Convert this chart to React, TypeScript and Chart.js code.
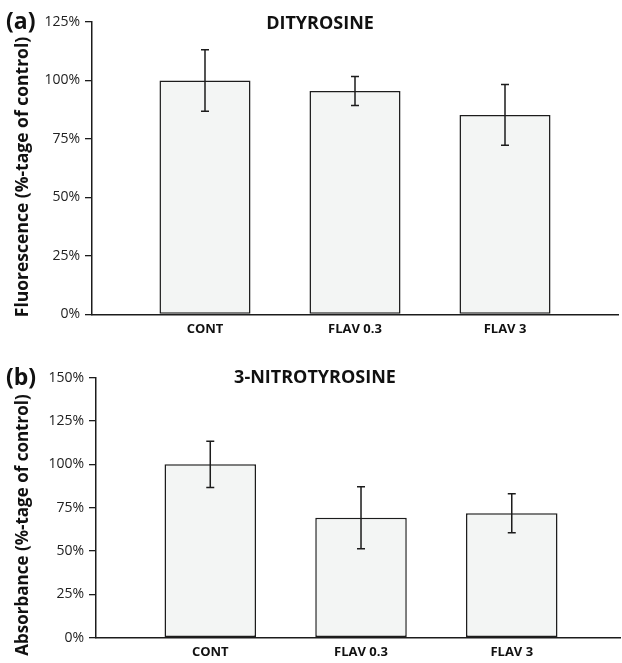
import React, { useEffect, useRef } from 'react';
import { Chart, registerables } from 'chart.js';

Chart.register(...registerables);

const categories = ['CONT', 'FLAV 0.3', 'FLAV 3'];
const dityrosineValues = [100, 95.5, 85.3];
const dityrosineErrors = [13.1, 6.2, 13.0];
const nitrotyrosineValues = [100, 69.2, 71.8];
const nitrotyrosineErrors = [13.4, 17.9, 11.2];
const dityrosineTickMax = 125;
const nitrotyrosineTickMax = 150;
const tickStep = 25;

const FONT = "'Open Sans', 'Noto Sans', sans-serif";
const INK = '#1c1c1c';

type PanelSpec = {
  width: number;
  height: number;
  values: number[];
  errors: number[];
  yMax: number;
  title: string;
  titleX: number;
  titleY: number;
  panel: string;
  panelY: number;
  yTitle: string;
  yTitleX: number;
  yTitleY: number;
  yTitleSize: number;
  axisLeft: number;
  plotTop: number;
  plotBottom: number;
  rightPad: number;
  xMin: number;
  xMax: number;
};

function makeConfig(p: PanelSpec): any {
  const errorBars = {
    id: 'errorBars',
    afterDatasetsDraw(chart: any) {
      const xs = chart.scales.x;
      const ys = chart.scales.y;
      const ctx = chart.ctx;
      ctx.save();
      ctx.strokeStyle = INK;
      ctx.lineWidth = 1.5;
      p.values.forEach((v, i) => {
        const x = xs.getPixelForValue(i);
        const yt = ys.getPixelForValue(v + p.errors[i]);
        const yb = ys.getPixelForValue(v - p.errors[i]);
        ctx.beginPath();
        ctx.moveTo(x, yt);
        ctx.lineTo(x, yb);
        ctx.moveTo(x - 4, yt);
        ctx.lineTo(x + 4, yt);
        ctx.moveTo(x - 4, yb);
        ctx.lineTo(x + 4, yb);
        ctx.stroke();
      });
      ctx.restore();
    },
  };
  const texts = {
    id: 'texts',
    afterDraw(chart: any) {
      const ctx = chart.ctx;
      ctx.save();
      ctx.fillStyle = '#111';
      ctx.textAlign = 'center';
      ctx.textBaseline = 'middle';
      ctx.font = `bold 18px ${FONT}`;
      ctx.fillText(p.title, p.titleX, p.titleY);
      ctx.textAlign = 'left';
      ctx.font = `bold 23px ${FONT}`;
      ctx.fillText(p.panel, 6, p.panelY);
      ctx.translate(p.yTitleX, p.yTitleY);
      ctx.rotate(-Math.PI / 2);
      ctx.textAlign = 'center';
      ctx.font = `bold ${p.yTitleSize}px ${FONT}`;
      ctx.fillText(p.yTitle, 0, 0);
      ctx.restore();
    },
  };
  return {
    type: 'bar',
    data: {
      datasets: [
        {
          data: p.values.map((v, i) => ({ x: i, y: v })),
          backgroundColor: '#f3f5f4',
          borderColor: INK,
          borderWidth: 1.5,
          borderSkipped: false,
          barPercentage: 0.607,
          categoryPercentage: 1,
        },
      ],
    },
    options: {
      animation: false,
      responsive: false,
      devicePixelRatio: 1,
      layout: { padding: { top: p.plotTop, left: 0, right: p.rightPad, bottom: 0 } },
      plugins: { legend: { display: false }, tooltip: { enabled: false }, title: { display: false } },
      scales: {
        x: {
          type: 'linear',
          offset: false,
          min: p.xMin,
          max: p.xMax,
          afterBuildTicks: (s: any) => {
            s.ticks = categories.map((_, i) => ({ value: i }));
          },
          afterFit: (s: any) => {
            s.height = p.height - p.plotBottom;
          },
          grid: { display: false, drawTicks: false, offset: false },
          border: { display: true, color: INK, width: 1.5 },
          ticks: {
            autoSkip: false,
            maxRotation: 0,
            padding: 7,
            color: '#111',
            font: { family: FONT, size: 13, weight: 'bold' },
            callback: (v: any) => categories[Math.round(v)] ?? '',
          },
        },
        y: {
          min: 0,
          max: p.yMax,
          afterFit: (s: any) => {
            s.width = p.axisLeft;
          },
          grid: { display: true, drawOnChartArea: false, drawTicks: true, tickLength: 7, color: INK, lineWidth: 1.3 },
          border: { display: true, color: INK, width: 1.5 },
          ticks: {
            stepSize: tickStep,
            padding: 5,
            color: '#222',
            font: { family: FONT, size: 14 },
            callback: (v: any) => `${v}%`,
          },
        },
      },
    },
    plugins: [errorBars, texts],
  };
}

const topSpec: PanelSpec = {
  width: 622,
  height: 340,
  values: dityrosineValues,
  errors: dityrosineErrors,
  yMax: dityrosineTickMax,
  title: 'DITYROSINE',
  titleX: 320,
  titleY: 24,
  panel: '(a)',
  panelY: 22,
  yTitle: 'Fluorescence (%-tage of control)',
  yTitleX: 23,
  yTitleY: 177,
  yTitleSize: 17.5,
  axisLeft: 92,
  plotTop: 22,
  plotBottom: 314.5,
  rightPad: 4,
  xMin: -0.7533,
  xMax: 2.7533,
};

const bottomSpec: PanelSpec = {
  width: 622,
  height: 323,
  values: nitrotyrosineValues,
  errors: nitrotyrosineErrors,
  yMax: nitrotyrosineTickMax,
  title: '3-NITROTYROSINE',
  titleX: 315,
  titleY: 38,
  panel: '(b)',
  panelY: 38,
  yTitle: 'Absorbance (%-tage of control)',
  yTitleX: 23,
  yTitleY: 185,
  yTitleSize: 17,
  axisLeft: 96,
  plotTop: 37.7,
  plotBottom: 297.7,
  rightPad: 2,
  xMin: -0.758,
  xMax: 2.718,
};

function ChartPanel({ spec, top }: { spec: PanelSpec; top: number }) {
  const ref = useRef<HTMLCanvasElement | null>(null);
  useEffect(() => {
    if (!ref.current) return;
    const chart = new Chart(ref.current, makeConfig(spec));
    return () => chart.destroy();
  }, [spec]);
  return (
    <canvas
      ref={ref}
      width={spec.width}
      height={spec.height}
      style={{ position: 'absolute', left: 0, top, width: spec.width, height: spec.height, display: 'block' }}
    />
  );
}

export default function App() {
  return (
    <div style={{ position: 'absolute', left: 0, top: 0, width: 622, height: 663, background: '#fff' }}>
      <ChartPanel spec={topSpec} top={0} />
      <ChartPanel spec={bottomSpec} top={340} />
    </div>
  );
}
